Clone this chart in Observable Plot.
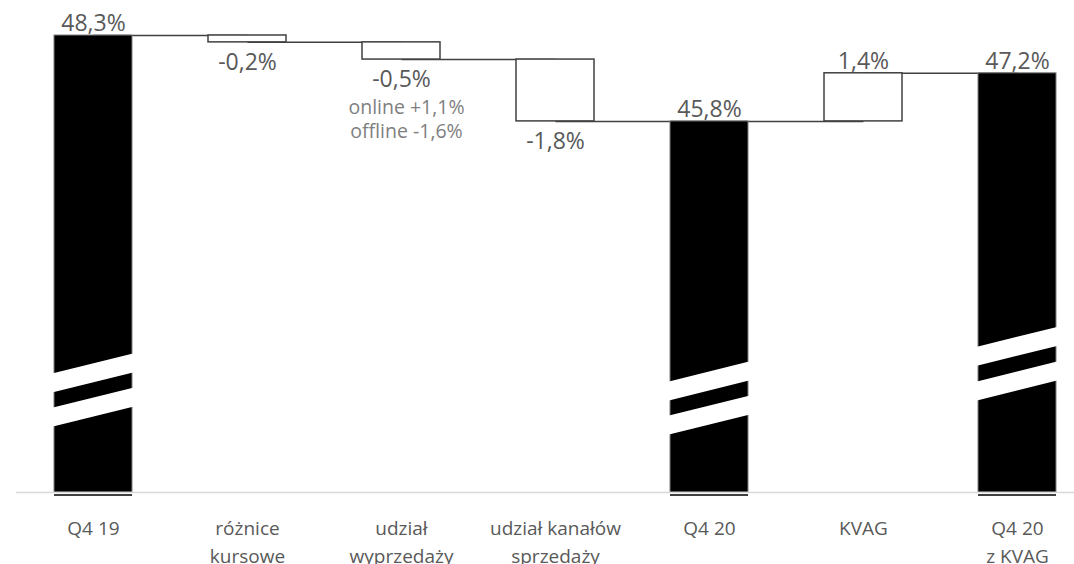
<!DOCTYPE html>
<html>
<head>
<meta charset="utf-8">
<script src="https://cdn.jsdelivr.net/npm/d3@7"></script>
<script src="https://cdn.jsdelivr.net/npm/@observablehq/plot@0.6"></script>
<style>
  html, body { margin: 0; padding: 0; background: #fff; overflow: hidden; }
  #chart svg { display: block; }
</style>
</head>
<body>
<div id="chart"></div>
<script>
// ---- data ----
const categories = ["Q4 19", "różnice kursowe", "udział wyprzedaży", "udział kanałów sprzedaży", "Q4 20", "KVAG", "Q4 20 z KVAG"];
const tickLabels = ["Q4 19", "różnice\nkursowe", "udział\nwyprzedaży", "udział kanałów\nsprzedaży", "Q4 20", "KVAG", "Q4 20\nz KVAG"];
const values = [48.3, -0.2, -0.5, -1.8, 45.8, 1.4, 47.2];
const kinds = ["total", "change", "change", "change", "total", "change", "total"];
const valueLabels = ["48,3%", "-0,2%", "-0,5%", "-1,8%", "45,8%", "1,4%", "47,2%"];
const axisStart = 35; // broken axis: bars start here
const noteCategory = "udział wyprzedaży";
const noteLines = ["online +1,1%", "offline -1,6%"];
// axis-break stripes (levels in data units) on the total bars
const breakCategories = ["Q4 19", "Q4 20", "Q4 20 z KVAG"];
const breakUpper = [38.47, 38.23, 39.24];
const breakLower = [37.47, 37.24, 38.23];

// ---- derived table ----
let running = axisStart;
const rows = categories.map((cat, i) => {
  let start, end;
  if (kinds[i] === "total") { start = axisStart; end = values[i]; }
  else { start = running; end = running + values[i]; }
  running = end;
  return { cat, start, end, value: values[i], kind: kinds[i], label: valueLabels[i] };
});
const connectors = rows.slice(0, -1).map((r, i) => ({ from: r.cat, to: rows[i + 1].cat, level: r.end }));
const labelMap = new Map(categories.map((c, i) => [c, tickLabels[i]]));
const totals = rows.filter(d => d.kind === "total");
const changes = rows.filter(d => d.kind === "change");
const upLabels = rows.filter(d => d.value >= 0);
const downLabels = rows.filter(d => d.value < 0);
const noteLevel = rows.find(d => d.cat === noteCategory).end;
const notes = noteLines.map((text, i) => ({ cat: noteCategory, level: noteLevel, text, line: i }));

const chart = Plot.plot({
  width: 1074,
  height: 564,
  marginTop: 35,
  marginBottom: 72,
  marginLeft: 16,
  marginRight: 0,
  style: { fontFamily: "'Open Sans', sans-serif", color: "#595959", background: "#fff", overflow: "hidden" },
  x: { domain: categories, range: [16, 1094], paddingInner: 0.494, paddingOuter: 0.247, label: null },
  y: { domain: [axisStart, d3.max(rows, d => d.end)], axis: null },
  marks: [
    Plot.link(connectors, { x1: "from", x2: "to", y1: "level", y2: "level", stroke: "#404040", strokeWidth: 1.5 }),
    Plot.barY(totals, { x: "cat", y1: "start", y2: "end", fill: "black", stroke: "#7f7f7f", strokeWidth: 1 }),
    Plot.barY(changes, { x: "cat", y1: "start", y2: "end", fill: "white", stroke: "#404040", strokeWidth: 1.5 }),
    Plot.tickY(totals, { x: "cat", y: () => axisStart, dy: 2.5, stroke: "black", strokeWidth: 1.5 }),
    Plot.ruleY([axisStart], { stroke: "#d9d9d9", strokeWidth: 1.5 }),
    Plot.text(upLabels, { x: "cat", y: "end", text: "label", dy: -12, fontSize: 23, fill: "#595959" }),
    Plot.text(downLabels, { x: "cat", y: "end", text: "label", dy: 20, fontSize: 23, fill: "#595959" }),
    Plot.text(notes.filter(d => d.line === 0), { x: "cat", y: "level", text: "text", dy: 48, dx: 5, fontSize: 19.5, fill: "#7f7f7f" }),
    Plot.text(notes.filter(d => d.line === 1), { x: "cat", y: "level", text: "text", dy: 72, dx: 5, fontSize: 19.5, fill: "#7f7f7f" }),
    Plot.axisX({ tickSize: 0, tickPadding: 23, fontSize: 19, lineHeight: 28 / 19, fill: "#595959", tickFormat: d => labelMap.get(d) })
  ]
});

document.getElementById("chart").appendChild(chart);

// axis-break stripes, positioned with Plot's own scales
const xs = chart.scale("x");
const ys = chart.scale("y");
const bw = xs.bandwidth;
const svg = d3.select(chart);
const stripeG = svg.append("g").attr("fill", "white");
breakCategories.forEach((cat, i) => {
  const x0 = xs.apply(cat) - 2;
  const x1 = xs.apply(cat) + bw + 2;
  const rise = bw * 0.26;
  const thick = 19;
  [breakUpper[i], breakLower[i]].forEach(level => {
    const yc = ys.apply(level);
    const yl = yc + rise / 2, yr = yc - rise / 2;
    stripeG.append("polygon").attr("points", [
      [x0, yl - thick / 2], [x1, yr - thick / 2], [x1, yr + thick / 2], [x0, yl + thick / 2]
    ].map(p => p.join(",")).join(" "));
  });
});
</script>
</body>
</html>
